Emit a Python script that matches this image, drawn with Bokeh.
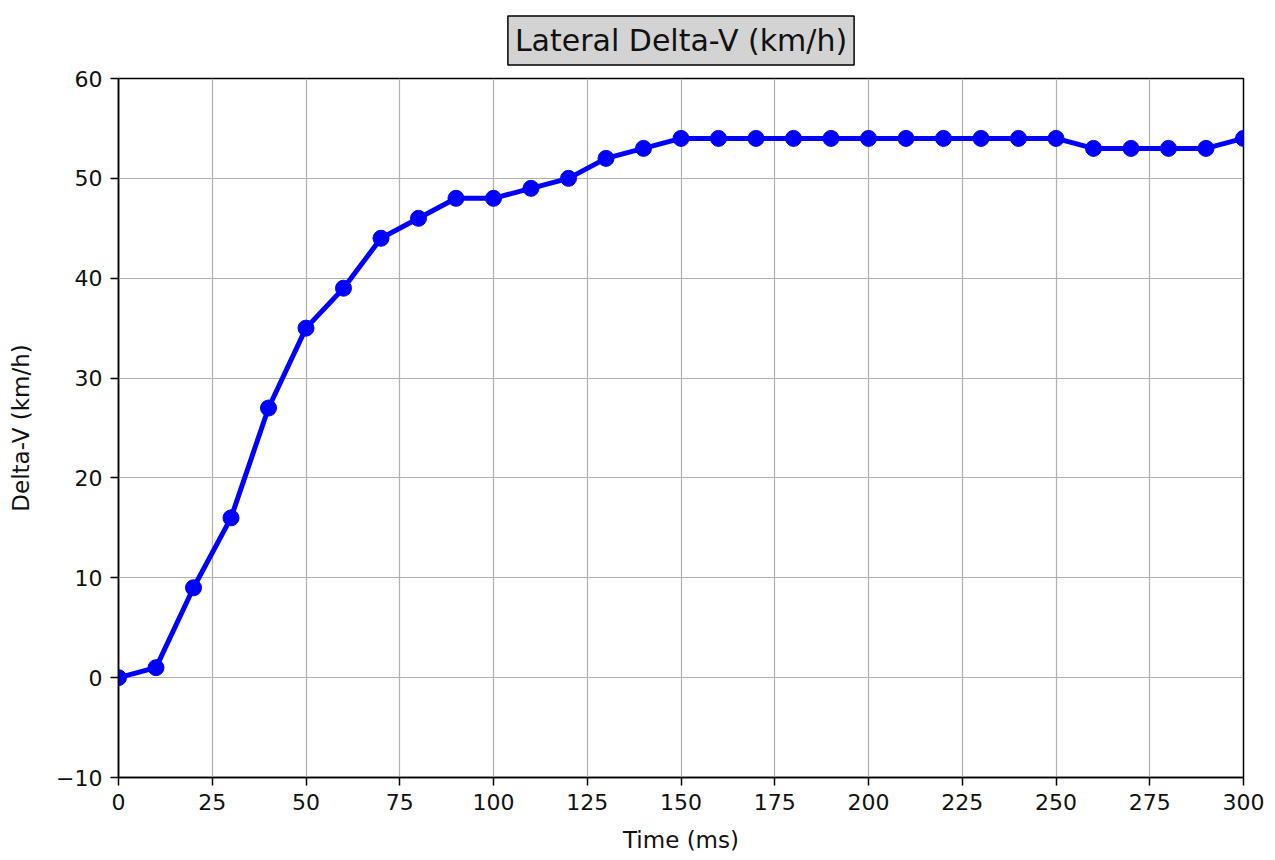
from bokeh.plotting import figure
from bokeh.models import Range1d, FixedTicker, ColumnDataSource
from bokeh.embed import file_html
from bokeh.resources import INLINE

time_ms = [0, 10, 20, 30, 40, 50, 60, 70, 80, 90, 100, 110, 120, 130, 140, 150,
           160, 170, 180, 190, 200, 210, 220, 230, 240, 250, 260, 270, 280, 290, 300]
delta_v = [0, 1, 9, 16, 27, 35, 39, 44, 46, 48, 48, 49, 50, 52, 53, 54,
           54, 54, 54, 54, 54, 54, 54, 54, 54, 54, 53, 53, 53, 53, 54]
x_ticks = [0, 25, 50, 75, 100, 125, 150, 175, 200, 225, 250, 275, 300]
y_ticks = [-10, 0, 10, 20, 30, 40, 50, 60]

FONT = "DejaVu Sans"

p = figure(width=1275, height=860, output_backend="svg", toolbar_location=None,
           x_range=Range1d(0, 300), y_range=Range1d(-10, 60),
           min_border_left=118, min_border_right=32, min_border_top=78, min_border_bottom=83)

p.title.text = "Lateral Delta-V (km/h)"
p.title.align = "center"
p.title.text_font = FONT
p.title.text_font_size = "30px"
p.title.text_font_style = "normal"
p.title.text_color = "#111111"
p.title.background_fill_color = "#d3d3d3"
p.title.border_line_color = "black"
p.title.border_line_width = 1.5
p.title.padding = 7
p.title.offset = 0
p.title.standoff = 27

src = ColumnDataSource(dict(t=time_ms, v=delta_v))
p.line("t", "v", source=src, line_color="blue", line_width=5)
p.scatter("t", "v", source=src, size=16, fill_color="blue", line_color="blue")

for ax in (p.xaxis[0], p.yaxis[0]):
    ax.major_label_text_font = FONT
    ax.major_label_text_font_size = "22px"
    ax.major_label_text_color = "#111111"
    ax.axis_label_text_font = FONT
    ax.axis_label_text_font_size = "23px"
    ax.axis_label_text_font_style = "normal"
    ax.axis_label_text_color = "#111111"
    ax.axis_line_color = "black"
    ax.axis_line_width = 1.5
    ax.major_tick_line_color = "black"
    ax.major_tick_line_width = 1.5
    ax.major_tick_out = 8
    ax.major_tick_in = 0
    ax.minor_tick_line_color = None

p.xaxis[0].ticker = FixedTicker(ticks=x_ticks)
p.yaxis[0].ticker = FixedTicker(ticks=y_ticks)
p.xaxis[0].axis_label = "Time (ms)"
p.yaxis[0].axis_label = "Delta-V (km/h)"
p.yaxis[0].major_label_overrides = {-10: "\u221210"}
p.xaxis[0].axis_label_standoff = 14
p.yaxis[0].axis_label_standoff = 19
p.xaxis[0].major_label_standoff = 8
p.yaxis[0].major_label_standoff = 8

p.xgrid.ticker = FixedTicker(ticks=x_ticks)
p.ygrid.ticker = FixedTicker(ticks=y_ticks)
p.grid.grid_line_color = "#b0b0b0"
p.grid.grid_line_width = 1.2

p.outline_line_color = "black"
p.outline_line_width = 1.5
p.outline_line_alpha = 1.0
p.background_fill_color = "white"
p.border_fill_color = "white"

open("out.html", "w").write(file_html(p, INLINE))
